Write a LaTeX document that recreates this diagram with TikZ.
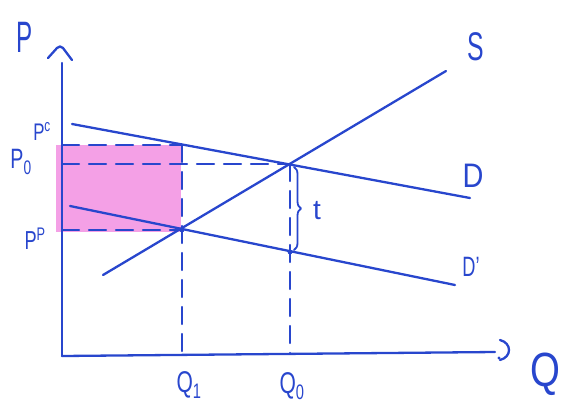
\documentclass[tikz,border=0pt]{standalone}
\usepackage{fontspec}
\usepackage{graphicx}
\setmainfont{Liberation Sans}
\usetikzlibrary{decorations.pathreplacing}
\definecolor{ink}{RGB}{40,70,205}
\definecolor{hl}{RGB}{244,160,230}
\newcommand{\narrowtxt}[2]{\scalebox{#1}[1]{#2}}
\begin{document}
\begin{tikzpicture}[x=1pt,y=-1pt,
  inkline/.style={draw=ink,line width=2.3pt,line cap=round,line join=round},
  dashline/.style={inkline,dash pattern=on 17pt off 10pt},
  lbl/.style={text=ink,inner sep=0pt}]
\useasboundingbox (0,0) rectangle (562,405);
% highlight box
\fill[hl] (56,145) rectangle (181,232);
% coordinates
\coordinate (O) at (62,356);
\coordinate (ytop) at (62,63);
\coordinate (xend) at (495,352);
\coordinate (Dstart) at (72,124);
\coordinate (Dend) at (470,198);
\coordinate (D1start) at (70,206);
\coordinate (D1end) at (455,285);
\coordinate (Sstart) at (103,275);
\coordinate (Send) at (446,71);
\coordinate (E0) at (290,164);
\coordinate (E1) at (182,230);
\coordinate (Ec) at (182,145);
\coordinate (Et) at (290,252);
\coordinate (yc) at (62,145);
\coordinate (y0) at (62,164);
\coordinate (yp) at (62,230);
\coordinate (xq1) at (182,355);
\coordinate (xq0) at (290,353);
% axes
\draw[inkline] (O) -- (ytop);
\draw[inkline] (O) -- (xend);
\draw[inkline] (48,58) -- (57,48) .. controls (59,46) and (61,46) .. (63,48) -- (72,60);
\draw[inkline] (500,340) .. controls (512,343) and (512,357) .. (500,360);
\fill[ink] (499,358) circle (1.6pt);
% dashed guides
\draw[dashline] (yc) -- (Ec);
\draw[dashline] (y0) -- (E0);
\draw[dashline] (yp) -- (E1);
\draw[dashline] (Ec) -- (xq1);
\draw[dashline] (E0) -- (xq0);
% curves
\draw[inkline] (Dstart) -- (Dend);
\draw[inkline] (D1start) -- (D1end);
\draw[inkline] (Sstart) -- (Send);
\fill[ink] (E1) circle (2.4pt);
\fill[ink] (Et) circle (2.4pt);
% brace
\draw[inkline,line width=1.8pt,decorate,decoration={brace,amplitude=7pt}] (294,167) -- (294,250);
% labels
\node[lbl,font=\fontsize{44}{44}\selectfont] (lP) at (25,37) {\narrowtxt{0.55}{P}};
\node[lbl,font=\fontsize{40}{40}\selectfont] (lS) at (476,47) {\narrowtxt{0.62}{S}};
\node[lbl,font=\fontsize{34}{34}\selectfont] (lD) at (473,176) {\narrowtxt{0.85}{D}};
\node[lbl,font=\fontsize{28}{28}\selectfont] (lD1) at (471,267) {\narrowtxt{0.65}{D'}};
\node[lbl,font=\fontsize{48}{48}\selectfont] (lQ) at (545,374) {\narrowtxt{0.8}{Q}};
\node[lbl,font=\fontsize{30}{30}\selectfont] (lQ1) at (189,385) {\narrowtxt{0.7}{Q\textsubscript{1}}};
\node[lbl,font=\fontsize{30}{30}\selectfont] (lQ0) at (292,386) {\narrowtxt{0.7}{Q\textsubscript{0}}};
\node[lbl,font=\fontsize{28}{28}\selectfont] (lP0) at (21,162) {\narrowtxt{0.7}{P\textsubscript{0}}};
\node[lbl,font=\fontsize{24}{24}\selectfont] (lPc) at (42,131) {\narrowtxt{0.7}{P\textsuperscript{c}}};
\node[lbl,font=\fontsize{26}{26}\selectfont] (lPp) at (35,239) {\narrowtxt{0.7}{P\textsuperscript{P}}};
\node[lbl,font=\fontsize{28}{28}\selectfont] (lt) at (317,211) {t};
\end{tikzpicture}
\end{document}
